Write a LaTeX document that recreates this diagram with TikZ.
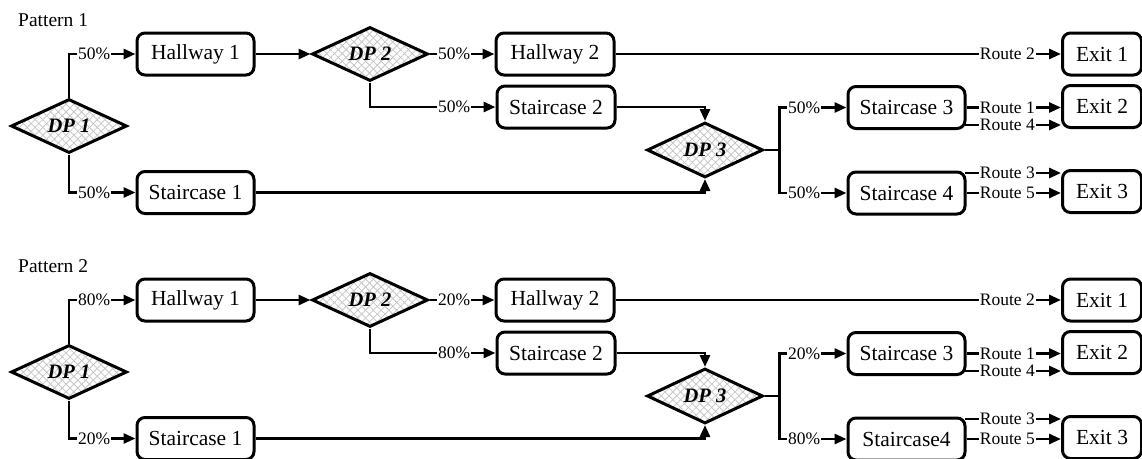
\documentclass[tikz,border=0pt]{standalone}
\usepackage{fontspec}
\setmainfont{Liberation Serif}
\usetikzlibrary{shapes.geometric,arrows.meta,patterns.meta,calc}
\tikzset{
  box/.style={draw, line width=3pt, rounded corners=8pt, inner sep=0pt,
    minimum width=117pt, minimum height=42pt, font=\fontsize{21.5}{24}\selectfont},
  exitbox/.style={box, minimum width=79pt},
  dpnode/.style={diamond, draw, line width=3pt, inner sep=0pt, aspect=2.2,
    minimum width=116pt, minimum height=54pt,
    font=\fontsize{20.5}{24}\selectfont\bfseries\itshape,
    preaction={pattern={Lines[angle=45,distance=5.5pt,line width=0.8pt]}, pattern color=gray!45},
    preaction={pattern={Lines[angle=-45,distance=5.5pt,line width=0.8pt]}, pattern color=gray!45}},
  conn/.style={line width=2.8pt},
  arr/.style={conn, -{Triangle[length=12pt,width=10pt]}},
  lbl/.style={fill=white, inner sep=1pt, anchor=east, font=\fontsize{17.5}{19}\selectfont},
  ttl/.style={font=\fontsize{19.5}{22}\selectfont, inner sep=0pt, anchor=west}
}
% #1 prefix, #2 title, #3..#8 percentages, #9 name of staircase 4
\newcommand\flowpattern[9]{%
  \node[ttl] (#1t) at (18,20) {#2};
  \node[dpnode] (#1d1) at (69,126) {DP 1};
  \node[box] (#1h1) at (195.5,54) {Hallway 1};
  \node[box] (#1s1) at (195.5,192.5) {Staircase 1};
  \node[dpnode] (#1d2) at (370,54) {DP 2};
  \node[box, minimum width=118pt] (#1h2) at (555,54) {Hallway 2};
  \node[box, minimum width=118pt] (#1s2) at (556,107) {Staircase 2};
  \node[dpnode, minimum height=55pt] (#1d3) at (705,150) {DP 3};
  \node[box] (#1s3) at (906.5,107.5) {Staircase 3};
  \node[box] (#1s4) at (906.5,193) {#9};
  \node[exitbox] (#1e1) at (1102,54) {Exit 1};
  \node[exitbox] (#1e2) at (1102,106.5) {Exit 2};
  \node[exitbox] (#1e3) at (1102,191.5) {Exit 3};
  % connectors
  \draw[arr] (#1d1.north) |- (#1h1.west);
  \draw[arr] (#1d1.south) |- (#1s1.west);
  \draw[arr] (#1h1.east) -- (#1d2.west);
  \draw[arr] (#1d2.east) -- (#1h2.west);
  \draw[arr] (#1d2.south) |- (#1s2.west);
  \draw[arr] (#1s2.east) -| (#1d3.north);
  \draw[arr] (#1s1.east) -| (#1d3.south);
  \coordinate (#1j) at ($(#1d3.east)+(15,0)$);
  \draw[arr] (#1d3.east) -- (#1j) |- (#1s3.west);
  \draw[arr] (#1j) |- (#1s4.west);
  \draw[arr] (#1h2.east) -- (#1h2.east -| #1e1.west);
  \draw[arr] (#1s3.east) -- (#1s3.east -| #1e2.west);
  \coordinate (#1r4) at ([xshift=-1.5pt,yshift=5pt]#1s3.south east);
  \draw[arr] (#1r4) -- (#1r4 -| #1e2.west);
  \coordinate (#1r3) at ([xshift=-1.5pt,yshift=-2.5pt]#1s4.north east);
  \draw[arr] (#1r3) -- (#1r3 -| #1e3.west);
  \draw[arr] (#1s4.east) -- (#1s4.east -| #1e3.west);
  % labels
  \node[lbl] (#1p1) at ($(#1h1.west)+(-24,0)$) {#3};
  \node[lbl] (#1p2) at ($(#1s1.west)+(-24,0)$) {#4};
  \node[lbl] (#1p3) at ($(#1h2.west)+(-23,0)$) {#5};
  \node[lbl] (#1p4) at ($(#1s2.west)+(-24,0)$) {#6};
  \node[lbl] (#1p5) at ($(#1s3.west)+(-25,0)$) {#7};
  \node[lbl] (#1p6) at ($(#1s4.west)+(-25,0)$) {#8};
  \node[lbl] (#1q2) at ($(#1h2.east -| #1e1.west)+(-25,0)$) {Route 2};
  \node[lbl] (#1q1) at ($(#1s3.east -| #1e2.west)+(-25,0)$) {Route 1};
  \node[lbl] (#1q4) at ($(#1r4 -| #1e2.west)+(-25,0)$) {Route 4};
  \node[lbl] (#1q3) at ($(#1r3 -| #1e3.west)+(-25,0)$) {Route 3};
  \node[lbl] (#1q5) at ($(#1s4.east -| #1e3.west)+(-25,0)$) {Route 5};
}
\begin{document}
\begin{tikzpicture}[x=1pt,y=-1pt]
  \useasboundingbox (0,0) rectangle (1142,458);
  \clip (0,0) rectangle (1142,458);
  \flowpattern{a}{Pattern 1}{50\%}{50\%}{50\%}{50\%}{50\%}{50\%}{Staircase 4}
  \begin{scope}[yshift=-246pt]
    \flowpattern{b}{Pattern 2}{80\%}{20\%}{20\%}{80\%}{20\%}{80\%}{Staircase4}
  \end{scope}
\end{tikzpicture}
\end{document}
